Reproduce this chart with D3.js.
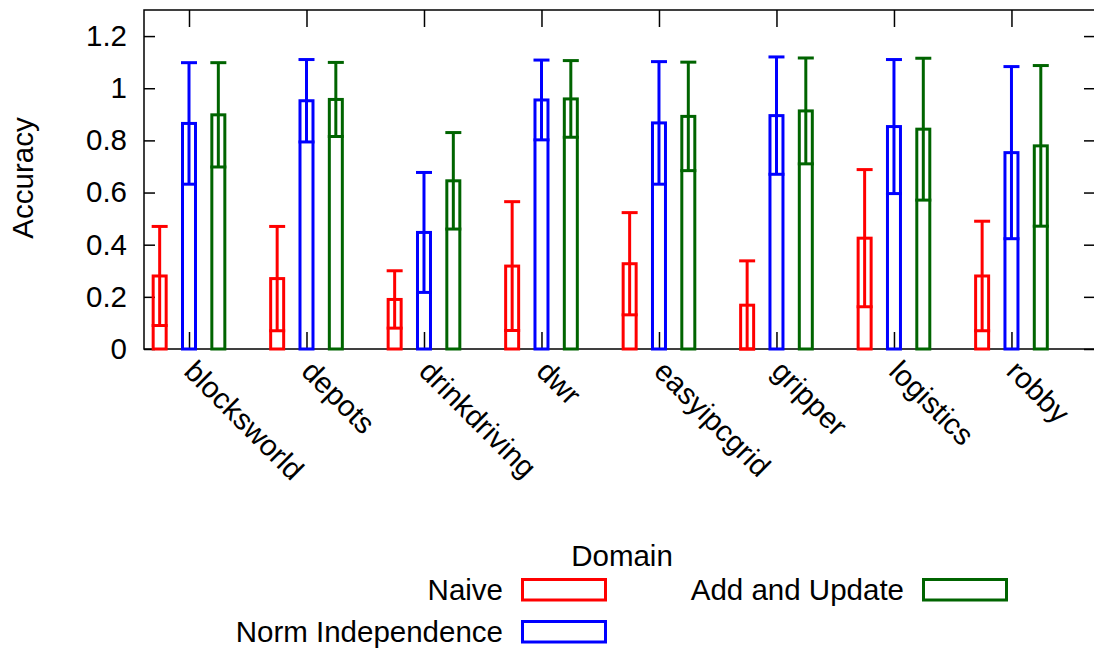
<!DOCTYPE html>
<html>
<head>
<meta charset="utf-8">
<script src="https://cdn.jsdelivr.net/npm/d3@7"></script>
<style>
  body { margin: 0; background: #fff; }
  svg { display: block; font-family: "Liberation Sans", Arial, Helvetica, sans-serif; }
</style>
</head>
<body>
<div id="root"></div>
<script>
// values (mean accuracy and error half-width)
const categories = ["blocksworld", "depots", "drinkdriving", "dwr", "easyipcgrid", "gripper", "logistics", "robby"];
const seriesNames = ["Naive", "Norm Independence", "Add and Update"];
const seriesColors = ["#ff0000", "#0000ff", "#006400"];

const naive = [0.28, 0.27, 0.19, 0.318, 0.327, 0.168, 0.425, 0.28];
const naiveErr = [0.19, 0.2, 0.11, 0.247, 0.196, 0.17, 0.263, 0.21];
const normIndep = [0.865, 0.952, 0.447, 0.955, 0.867, 0.895, 0.853, 0.753];
const normIndepErr = [0.233, 0.158, 0.23, 0.153, 0.235, 0.225, 0.257, 0.33];
const addUpdate = [0.898, 0.957, 0.645, 0.959, 0.892, 0.913, 0.843, 0.779];
const addUpdateErr = [0.2, 0.142, 0.185, 0.147, 0.208, 0.203, 0.272, 0.308];

const yTicks = [0, 0.2, 0.4, 0.6, 0.8, 1, 1.2];

const w = 1094;
const h = 651;
const plotL = 144, plotR = 1095, plotT = 10, plotB = 349;
const fontSize = 29.5;

const svg = d3.select("#root")
    .append("svg")
    .attr("width", w)
    .attr("height", h)
    .style("font-size", fontSize + "px");

svg.append("rect").attr("width", w).attr("height", h).attr("fill", "#fff");

const x = d3.scaleLinear().domain([-0.383, 7.711]).range([plotL, plotR]);
const sub = d3.scaleBand().domain(seriesNames).range([-44, 44]);
const y = d3.scaleLinear().domain([0, 1.3]).range([plotB, plotT]);

const fmt = d => String(+d.toFixed(1));

// axes: gnuplot style, ticks inward on all four sides
const yAxis = svg.append("g")
    .attr("transform", `translate(${plotL},0)`)
    .call(d3.axisLeft(y).tickValues(yTicks).tickFormat(fmt).tickSizeInner(-11).tickSizeOuter(0).tickPadding(17));
const yAxisR = svg.append("g")
    .attr("transform", `translate(${plotR},0)`)
    .call(d3.axisRight(y).tickValues(yTicks).tickFormat("").tickSizeInner(-11).tickSizeOuter(0));
const xAxisT = svg.append("g")
    .attr("transform", `translate(0,${plotT})`)
    .call(d3.axisTop(x).tickValues(d3.range(categories.length)).tickFormat("").tickSizeInner(-17).tickSizeOuter(0));
const xAxis = svg.append("g")
    .attr("transform", `translate(0,${plotB})`)
    .call(d3.axisBottom(x).tickValues(d3.range(categories.length)).tickFormat(i => categories[i]).tickSizeInner(-17).tickSizeOuter(0));

[yAxis, yAxisR, xAxisT, xAxis].forEach(g => {
    g.select(".domain").remove();
    g.selectAll("line").attr("stroke", "#000").attr("stroke-width", 1.5);
    g.attr("font-size", null).attr("font-family", null);
    g.selectAll("text").attr("fill", "#000");
});

xAxis.selectAll("text")
    .attr("x", 0).attr("y", 0).attr("dy", null)
    .attr("text-anchor", "start")
    .attr("transform", "translate(-7,24) rotate(45)");

// frame
svg.append("rect")
    .attr("x", plotL).attr("y", plotT)
    .attr("width", plotR - plotL).attr("height", plotB - plotT)
    .attr("fill", "none").attr("stroke", "#000").attr("stroke-width", 1.5);

svg.append("text")
    .attr("transform", `translate(33,178) rotate(-90)`)
    .attr("text-anchor", "middle")
    .text("Accuracy");

// bars with error bars
const means = [naive, normIndep, addUpdate];
const errs = [naiveErr, normIndepErr, addUpdateErr];
const rows = [];
seriesNames.forEach((s, si) => {
    categories.forEach((c, ci) => {
        rows.push({ s: s, si: si, ci: ci, v: means[si][ci], e: errs[si][ci] });
    });
});

const barW = 13, capW = 16;
const cx = d => x(d.ci) + sub(d.s) + sub.bandwidth() / 2;

const bars = svg.append("g").selectAll("g")
    .data(rows)
    .enter()
    .append("g")
    .attr("stroke", d => seriesColors[d.si])
    .attr("stroke-width", 3)
    .attr("fill", "none");

bars.append("rect")
    .attr("x", d => cx(d) - barW / 2)
    .attr("y", d => y(d.v))
    .attr("width", barW)
    .attr("height", d => y(0) - y(d.v));

bars.append("line")
    .attr("x1", d => cx(d)).attr("x2", d => cx(d))
    .attr("y1", d => y(Math.max(0, d.v - d.e)))
    .attr("y2", d => y(d.v + d.e));

bars.append("line")
    .attr("x1", d => cx(d) - capW / 2).attr("x2", d => cx(d) + capW / 2)
    .attr("y1", d => y(d.v + d.e)).attr("y2", d => y(d.v + d.e));

bars.append("line")
    .attr("x1", d => cx(d) - capW / 2).attr("x2", d => cx(d) + capW / 2)
    .attr("y1", d => y(Math.max(0, d.v - d.e))).attr("y2", d => y(Math.max(0, d.v - d.e)));

// legend
const legend = svg.append("g");
legend.append("text")
    .attr("x", 622).attr("y", 566)
    .attr("text-anchor", "middle")
    .text("Domain");

const items = legend.selectAll("g.item")
    .data(seriesNames)
    .enter()
    .append("g")
    .attr("class", "item")
    .attr("transform", (d, i) => `translate(${Math.floor(i / 2) * 401},${(i % 2) * 42})`);

items.append("text")
    .attr("x", 503).attr("y", 600)
    .attr("text-anchor", "end")
    .text(d => d);

items.append("rect")
    .attr("x", 522.5).attr("y", 579.5)
    .attr("width", 83).attr("height", 20.5)
    .attr("fill", "none")
    .attr("stroke", (d, i) => seriesColors[i])
    .attr("stroke-width", 3);
</script>
</body>
</html>
